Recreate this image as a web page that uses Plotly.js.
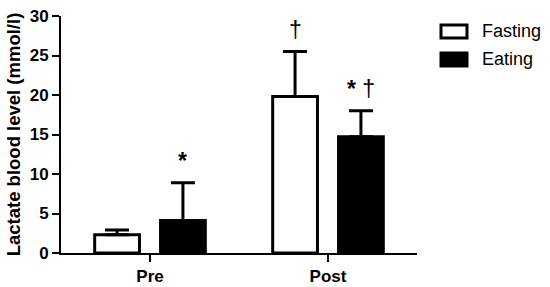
<!DOCTYPE html>
<html>
<head>
<meta charset="utf-8">
<script src="https://cdn.plot.ly/plotly-3.0.1.min.js"></script>
<style>
  html, body { margin: 0; padding: 0; background: #fff; }
  #plot { width: 550px; height: 287px; }
</style>
</head>
<body>
<div id="plot"></div>
<script>
const categories = ["Pre", "Post"];
const seriesNames = ["Fasting", "Eating"];
const fastingMean = [2.3, 19.8];
const fastingSD = [0.6, 5.7];
const eatingMean = [4.1, 14.7];
const eatingSD = [4.8, 3.3];
const fastingMarks = ["", "\u2020"];
const eatingMarks = ["<b>*</b>", "<b>*</b> \u2020"];

const BARGAP = 0.26;
const BARGROUPGAP = 0.32;
const FONT = "Liberation Sans, Arial, sans-serif";

function barTrace(name, y, sd, fill) {
	return {
		type: "bar",
		name: name,
		x: categories,
		y: y,
		marker: { color: fill, line: { color: "#000", width: 3 } },
		error_y: {
			type: "data",
			array: sd,
			arrayminus: sd.map(() => 0),
			symmetric: false,
			color: "#000",
			thickness: 3,
			width: 12,
		},
		showlegend: false,
		hoverinfo: "skip",
	};
}

const traces = [
	barTrace(seriesNames[0], fastingMean, fastingSD, "#ffffff"),
	barTrace(seriesNames[1], eatingMean, eatingSD, "#000000"),
];

// significance marks above each error bar
const slot = (1 - BARGAP) / 2;
const annotations = [];
[[fastingMean, fastingSD, fastingMarks, -1], [eatingMean, eatingSD, eatingMarks, 1]].forEach(
	([mean, sd, marks, side]) => {
		marks.forEach((m, i) => {
			if (!m) return;
			annotations.push({
				xref: "x",
				yref: "y",
				x: i + (side * slot) / 2,
				y: mean[i] + sd[i],
				yanchor: "bottom",
				yshift: 7,
				text: m,
				showarrow: false,
				font: { family: FONT, size: 23, color: "#000" },
			});
		});
	}
);

// legend drawn by hand to get the wide boxes
const shapes = [];
const fills = ["#ffffff", "#000000"];
seriesNames.forEach((name, i) => {
	const top = 25 + i * 28;
	shapes.push({
		type: "rect",
		xref: "paper",
		yref: "paper",
		x0: (441 - 61) / 356,
		x1: (467 - 61) / 356,
		y0: (253 - top) / 237,
		y1: (253 - top - 13) / 237,
		fillcolor: fills[i],
		line: { color: "#000", width: 3 },
	});
	annotations.push({
		xref: "paper",
		yref: "paper",
		x: (480 - 61) / 356,
		y: (253 - top - 6.5) / 237,
		xanchor: "left",
		yanchor: "middle",
		text: name,
		showarrow: false,
		font: { family: FONT, size: 18, color: "#000" },
	});
});

const layout = {
	width: 550,
	height: 287,
	margin: { l: 61, r: 133, t: 16, b: 34 },
	paper_bgcolor: "#fff",
	plot_bgcolor: "#fff",
	barmode: "group",
	bargap: BARGAP,
	bargroupgap: BARGROUPGAP,
	showlegend: false,
	font: { family: FONT, color: "#000" },
	xaxis: {
		type: "category",
		range: [-0.5, 1.5],
		showline: true,
		linecolor: "#000",
		linewidth: 2,
		ticks: "outside",
		ticklen: 7,
		tickwidth: 2,
		tickcolor: "#000",
		tickfont: { family: FONT, size: 17, color: "#000", weight: "bold" },
		showgrid: false,
		zeroline: false,
		fixedrange: true,
	},
	yaxis: {
		range: [0, 30],
		tickvals: [0, 5, 10, 15, 20, 25, 30],
		showline: true,
		linecolor: "#000",
		linewidth: 2,
		ticks: "outside",
		ticklen: 7,
		tickwidth: 2,
		tickcolor: "#000",
		tickfont: { family: FONT, size: 17, color: "#000", weight: "bold" },
		showgrid: false,
		zeroline: false,
		title: {
			text: "Lactate blood level (mmol/l)",
			font: { family: FONT, size: 18.5, color: "#000", weight: "bold" },
			standoff: 4,
		},
		fixedrange: true,
	},
	shapes: shapes,
	annotations: annotations,
};

Plotly.newPlot("plot", traces, layout, { displayModeBar: false, staticPlot: true });
</script>
</body>
</html>
